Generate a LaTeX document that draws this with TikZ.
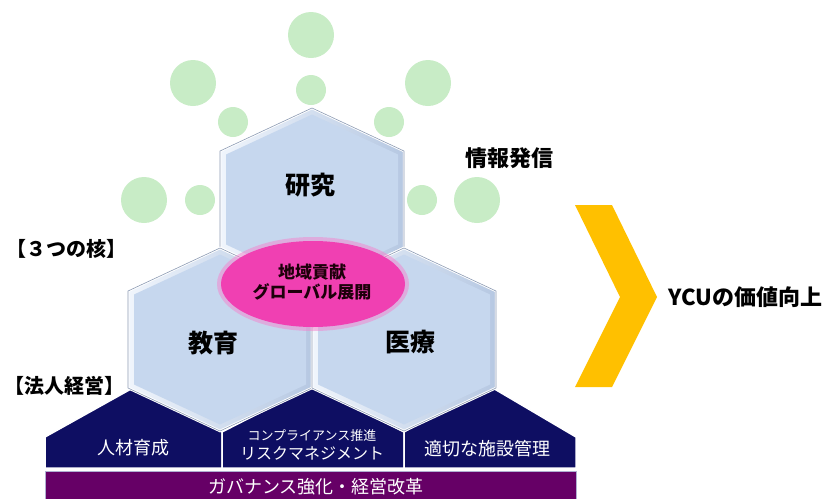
\documentclass[tikz,border=0pt]{standalone}
\usepackage{fontspec}
\setmainfont{Noto Sans CJK JP}
\usetikzlibrary{positioning}
\definecolor{hexblue}{RGB}{198,215,238}
\definecolor{hexedge}{RGB}{240,245,252}
\definecolor{hexshade}{RGB}{182,200,226}
\definecolor{hexline}{RGB}{140,155,180}
\definecolor{bubblegreen}{RGB}{200,236,198}
\definecolor{corenavy}{RGB}{14,14,98}
\definecolor{govpurple}{RGB}{102,0,102}
\definecolor{govline}{RGB}{176,176,210}
\definecolor{hubpink}{RGB}{240,64,178}
\definecolor{hubsoft}{RGB}{244,130,205}
\definecolor{arrowyellow}{RGB}{255,192,0}
\tikzset{
    bubble/.style={circle, fill=bubblegreen, inner sep=0pt},   % Green dots around the top cell
    big bubble/.style={bubble, minimum size=46pt},
    small bubble/.style={bubble, minimum size=30pt},
    every node/.style={inner sep=0pt},
    cell text/.style={font=\fontsize{25}{28}\selectfont\bfseries},
    hub text/.style={font=\fontsize{17}{20}\selectfont\bfseries, align=center, text=black!85!purple},
    side text/.style={font=\fontsize{20}{22}\selectfont\bfseries},
    navy text/.style={font=\fontsize{18}{20}\selectfont, text=white},
    navy small/.style={font=\fontsize{13}{15}\selectfont, text=white},
    navy block/.style={fill=corenavy, draw=white, line width=1.5pt},
    pics/hexcell/.style={code={                                % One bevelled hexagon, centred on the pic
        \shadedraw[draw=white, line width=2.5pt, left color=hexedge, right color=hexshade]
            (-92,-48.5) -- (0,-91.5) -- (92,-48.5) -- (92,48.5) -- (0,91.5) -- (-92,48.5) -- cycle;
        \fill[hexblue]
            (-86,-45) -- (0,-85) -- (86,-45) -- (86,45) -- (0,85) -- (-86,45) -- cycle;
        \draw[hexline, line width=0.6pt]
            (-92,-48.5) -- (0,-91.5) -- (92,-48.5) -- (92,48.5) -- (0,91.5) -- (-92,48.5) -- cycle;
    }}}

\begin{document}
\begin{tikzpicture}[x=1pt, y=-1pt]
        \useasboundingbox (0,0) rectangle (828,499);

        % bubbles
        \node[big bubble] (g1) at (311,35) {};
        \node[small bubble] (g2) at (311,90) {};
        \node[big bubble] (g3) at (193,83) {};
        \node[small bubble] (g4) at (233,122) {};
        \node[big bubble] (g5) at (428,83) {};
        \node[small bubble] (g6) at (389,122) {};
        \node[big bubble] (g7) at (144,200) {};
        \node[small bubble] (g8) at (200,200) {};
        \node[small bubble] (g9) at (422,200) {};
        \node[big bubble] (g10) at (477,200) {};

        % management blocks
        \fill[govpurple] (45,471) rectangle (576,499);
        \draw[govline, line width=1pt] (45,499) -- (45,471) -- (576,471) -- (576,499);
        \path[navy block] (45,468) -- (45,437) -- (140,384) -- (222,432) -- (222,468) -- cycle;
        \path[navy block] (222,468) -- (222,432) -- (312,386) -- (404,432) -- (404,468) -- cycle;
        \path[navy block] (404,468) -- (404,432) -- (486,384) -- (576,437) -- (576,468) -- cycle;

        % three cells
        \pic at (312,199.5) {hexcell};
        \pic at (220,339.5) {hexcell};
        \pic at (404,339.5) {hexcell};

        % hub with a soft rim
        \fill[hubsoft, opacity=0.5] (313,284) ellipse (96 and 47);
        \fill[hubpink] (313,284) ellipse (92 and 43);

        \node[cell text] (research) at (310,185) {研究};
        \node[cell text] (education) at (213,343) {教育};
        \node[cell text] (medicine) at (410,342) {医療};
        \node[hub text] (hub) at (312,282) {地域貢献\\グローバル展開};

        \node[side text] (core3) at (66,249) {【３つの核】};
        \node[side text] (corp) at (65,386) {【法人経営】};
        \node[font=\fontsize{22}{24}\selectfont\bfseries] (info) at (509,158) {情報発信};

        \node[navy text] (people) at (133,448) {人材育成};
        \node[navy small] (comp) at (312,436) {コンプライアンス推進};
        \node[navy text, font=\fontsize{16}{18}\selectfont] (risk) at (312,453) {リスクマネジメント};
        \node[navy text] (facility) at (487,449) {適切な施設管理};
        \node[font=\fontsize{18}{20}\selectfont, text=white] (gov) at (316,487) {ガバナンス強化・経営改革};

        % value arrow
        \fill[arrowyellow] (575,205) -- (612,205) -- (657,297) coordinate (tip)
            -- (612,387) -- (575,387) -- (620,297) -- cycle;
        \node[font=\fontsize{22}{24}\selectfont\bfseries, right=11pt of tip] (ycu) {YCUの価値向上};
    \end{tikzpicture}
\end{document}
